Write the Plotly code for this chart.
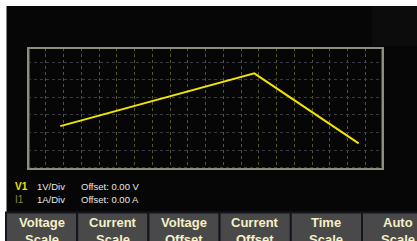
import plotly.graph_objects as go

# ---- data (grid divisions) ----
time_div = [1.82, 12.75, 18.63]
volt_div = [1.36, 4.36, 0.38]

info_channels = ["V1", "I1"]
info_scales = ["1V/Div", "1A/Div"]
info_offsets = ["Offset: 0.00 V", "Offset: 0.00 A"]

button_top = ["Voltage", "Current", "Voltage", "Current", "Time", "Auto"]
button_bottom = ["Scale", "Scale", "Offset", "Offset", "Scale", "Scale"]

W, H = 417, 241
L, R, T, B = 28, 383, 48, 169  # plot area in pixels


def px(x):
    return (x - L) / (R - L)


def py(y):
    return (B - y) / (B - T)


fig = go.Figure()
fig.add_trace(go.Scatter(x=time_div, y=volt_div, mode="lines",
                         line=dict(color="#f2e400", width=2),
                         hoverinfo="skip", showlegend=False, cliponaxis=True))

shapes = []
# white frame (top/left) and black screen
shapes.append(dict(type="rect", xref="paper", yref="paper",
                   x0=px(6.5), x1=px(W + 2), y0=py(6), y1=py(H + 2),
                   fillcolor="#060606", line=dict(width=0), layer="below"))
shapes.append(dict(type="rect", xref="paper", yref="paper",
                   x0=px(372), x1=px(W + 2), y0=py(6), y1=py(46),
                   fillcolor="#0c0c0c", line=dict(width=0), layer="below"))
# plot border
shapes.append(dict(type="rect", xref="paper", yref="paper",
                   x0=0, x1=1, y0=0, y1=1,
                   line=dict(color="#8e8e7e", width=2), layer="above"))
for xx in (L + 1.5, R - 1.5):
    shapes.append(dict(type="line", xref="paper", yref="paper",
                       x0=px(xx), x1=px(xx), y0=py(B - 1.5), y1=py(T + 1.5),
                       line=dict(color="#3c3ca8", width=1), layer="above"))

# buttons
bx0 = 6
bw = 71.2
for i in range(6):
    x0 = bx0 + i * bw
    shapes.append(dict(type="rect", xref="paper", yref="paper",
                       x0=px(x0), x1=px(x0 + bw), y0=py(212.5), y1=py(H + 5),
                       fillcolor="#494949", line=dict(color="#15151f", width=2),
                       layer="above"))

annotations = []
for i in range(6):
    cx = bx0 + i * bw + bw / 2
    for txt, yy in ((button_top[i], 222.5), (button_bottom[i], 239.5)):
        annotations.append(dict(text=f"<b>{txt}</b>", xref="paper", yref="paper",
                                x=px(cx), y=py(yy), xanchor="center", yanchor="middle",
                                showarrow=False,
                                font=dict(family="Liberation Sans, Arial", size=13,
                                          color="#f4f0c8")))

chan_colors = ["#ece400", "#8a8638"]
for j, yy in enumerate((186.5, 199)):
    annotations.append(dict(text=f"<b>{info_channels[j]}</b>" if j == 0 else info_channels[j],
                            xref="paper", yref="paper",
                            x=px(12.5), y=py(yy), xanchor="left", yanchor="middle",
                            showarrow=False,
                            font=dict(family="Liberation Sans, Arial", size=10,
                                      color=chan_colors[j])))
    annotations.append(dict(text=info_scales[j], xref="paper", yref="paper",
                            x=px(35), y=py(yy), xanchor="left", yanchor="middle",
                            showarrow=False,
                            font=dict(family="Liberation Sans, Arial", size=9.5,
                                      color="#e6e6e6")))
    annotations.append(dict(text=info_offsets[j], xref="paper", yref="paper",
                            x=px(78.5), y=py(yy), xanchor="left", yanchor="middle",
                            showarrow=False,
                            font=dict(family="Liberation Sans, Arial", size=9.5,
                                      color="#e6e6e6")))

fig.update_layout(
    width=W, height=H,
    margin=dict(l=L, r=W - R, t=T, b=H - B, pad=0, autoexpand=False),
    paper_bgcolor="white",
    plot_bgcolor="#060606",
    shapes=shapes,
    annotations=annotations,
    xaxis=dict(range=[0, 20], dtick=1, tick0=0, showticklabels=False, ticks="",
               showgrid=True, gridcolor="#55552e", griddash="dot", gridwidth=1,
               zeroline=False, showline=False, fixedrange=True),
    yaxis=dict(range=[-1.08, 5.8], dtick=1, tick0=0, showticklabels=False, ticks="",
               showgrid=True, gridcolor="#3a3a44", griddash="dot", gridwidth=1,
               zeroline=False, showline=False, fixedrange=True),
)

fig.write_html("out.html", config={"displayModeBar": False},
               post_script="document.body.style.margin='0';document.body.style.overflow='hidden';")
